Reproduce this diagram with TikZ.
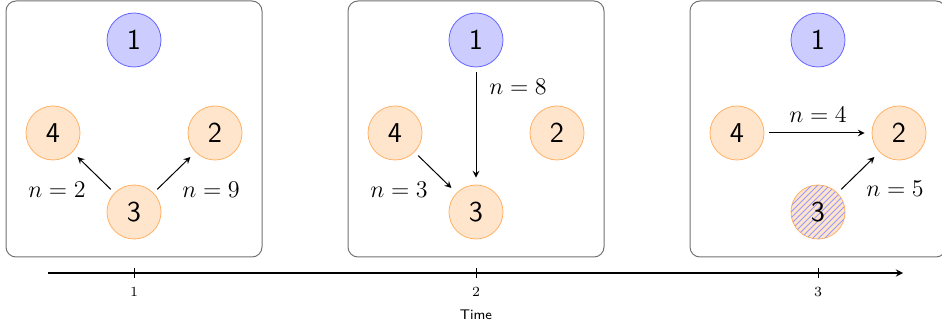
\documentclass[tikz,border=0pt]{standalone}
\usetikzlibrary{patterns,arrows.meta}
\begin{document}
\begin{tikzpicture}[x=0.5pt,y=-0.5pt,>=stealth,
  frame/.style={draw=black!55,rounded corners=5pt,fill=white,line width=0.5pt},
  bnode/.style={circle,draw=blue!60,fill=blue!20,minimum size=27pt,inner sep=0pt,font=\sffamily\Large},
  onode/.style={circle,draw=orange!60,fill=orange!20,minimum size=27pt,inner sep=0pt,font=\sffamily\Large},
  hnode/.style={onode,postaction={pattern=north east lines,pattern color=blue!40}},
  edge/.style={->,line width=0.5pt,shorten <=2.5pt,shorten >=3.5pt},
  lab/.style={font=\large,inner sep=0pt},
  tick/.style={font=\scriptsize,inner sep=0pt}]
\useasboundingbox (0,0) rectangle (942,331);
% frames
\draw[frame] (6,1) rectangle (262,257);
\draw[frame] (348,1) rectangle (604,257);
\draw[frame] (690,1) rectangle (946,257);
% panel 1
\node[bnode] (a1) at (134,40) {1};
\node[onode] (a4) at (53,133) {4};
\node[onode] (a2) at (215,133) {2};
\node[onode] (a3) at (134,212) {3};
\draw[edge] (a3) -- (a4);
\draw[edge] (a3) -- (a2);
\node[lab] (la) at (57,190) {$n=2$};
\node[lab] (lb) at (211,190) {$n=9$};
% panel 2
\node[bnode] (b1) at (476,40) {1};
\node[onode] (b4) at (395,133) {4};
\node[onode] (b2) at (557,133) {2};
\node[onode] (b3) at (476,212) {3};
\draw[edge] (b1) -- (b3);
\draw[edge] (b4) -- (b3);
\node[lab] (lc) at (518,87) {$n=8$};
\node[lab] (ld) at (399,190) {$n=3$};
% panel 3
\node[bnode] (c1) at (818,40) {1};
\node[onode] (c4) at (737,133) {4};
\node[onode] (c2) at (899,133) {2};
\node[hnode] (c3) at (818,212) {3};
\draw[edge] (c4) -- (c2);
\draw[edge] (c3) -- (c2);
\node[lab] (le) at (818,115) {$n=4$};
\node[lab] (lf) at (895,189) {$n=5$};
% time axis
\coordinate (s) at (48,273);
\coordinate (e) at (903,273);
\draw[->,line width=0.6pt] (s) -- (e);
\foreach \x/\t in {134/1,476/2,818/3}{
  \draw[line width=0.4pt] (\x,268) -- (\x,278);
  \node[tick] (t\t) at (\x,292) {\t};
}
\node[font=\scriptsize\sffamily,inner sep=0pt] (time) at (476,315) {Time};
\end{tikzpicture}
\end{document}
